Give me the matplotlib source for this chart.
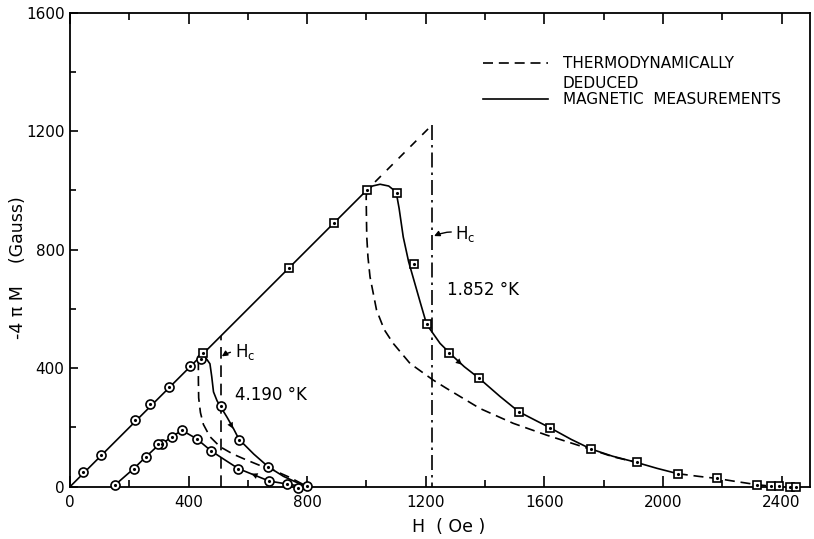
import numpy as np
import matplotlib
matplotlib.use('Agg')
import matplotlib.pyplot as plt
from matplotlib.lines import Line2D

# --- data (H in Oe, -4piM in Gauss) ---
# straight line (full diamagnetism)
diag_h = [0, 1001]
diag_m = [0, 1001]

# 4.190 K : circles on the rising line
t419_up_h = [45, 104, 218, 271, 334, 405, 442]
t419_up_m = [48, 108, 224, 278, 338, 408, 430]

# 4.190 K : measured curve, increasing field
t419_inc_h = [442, 460, 472, 478, 484, 496, 508, 530, 552, 570, 620, 669, 720, 770, 800]
t419_inc_m = [430, 432, 415, 372, 320, 290, 270, 234, 195, 160, 110, 67, 35, 12, 0]
t419_inc_pts_h = [508, 570, 669, 798]
t419_inc_pts_m = [272, 158, 67, 2]

# 4.190 K : measured curve, decreasing field
t419_dec_h = [800, 770, 733, 672, 620, 568, 520, 476, 427, 378, 343, 311, 298, 256, 215, 152, 145]
t419_dec_m = [0, 3, 9, 19, 40, 61, 92, 121, 162, 190, 169, 144, 140, 101, 61, 6, 0]
t419_dec_pts_h = [770, 733, 672, 568, 476, 427, 378, 343, 311, 298, 256, 215, 152]
t419_dec_pts_m = [-4, 9, 19, 61, 121, 162, 190, 169, 144, 144, 101, 61, 6]

# 4.190 K : thermodynamically deduced
t419_th_h = [433, 433, 434, 440, 450, 472, 506, 550, 596, 640, 686, 740, 786, 800]
t419_th_m = [427, 360, 300, 250, 210, 169, 135, 110, 90, 72, 56, 32, 8, 0]
hc_419 = 508

# 1.852 K : squares
t185_pts_h = [450, 737, 889, 1001, 1102, 1160, 1203, 1277, 1380, 1514, 1619, 1758,
              1911, 2050, 2181, 2316, 2363, 2392, 2428, 2448]
t185_pts_m = [452, 737, 889, 1001, 993, 752, 548, 452, 366, 253, 199, 127,
              82, 44, 28, 7, 2, 2, 0, -2]

# 1.852 K : measured curve
t185_meas_h = [1001, 1020, 1046, 1075, 1100, 1110, 1124, 1142, 1162, 1182, 1203, 1248,
               1290, 1330, 1380, 1450, 1514, 1570, 1619, 1690, 1758, 1830, 1911, 1980, 2050]
t185_meas_m = [1001, 1015, 1021, 1015, 995, 940, 843, 760, 690, 620, 548, 484,
               442, 405, 366, 305, 253, 224, 199, 160, 127, 103, 82, 62, 44]
t185_tail_h = [2050, 2120, 2181, 2250, 2316, 2363, 2400, 2448]
t185_tail_m = [44, 35, 28, 17, 7, 2, 1, 0]

# 1.852 K : thermodynamically deduced
t185_th_h = [1001, 999, 1000, 1001, 1005, 1012, 1034, 1060, 1090, 1147, 1225, 1270,
             1383, 1495, 1608, 1720, 1832, 1911]
t185_th_m = [1001, 978, 900, 843, 775, 708, 596, 530, 484, 416, 360, 332,
             264, 214, 174, 138, 101, 82]
hc_185 = 1222

plt.rcParams['font.family'] = 'DejaVu Sans'
plt.rcParams['mathtext.fontset'] = 'dejavusans'

fig = plt.figure(figsize=(8.14, 5.39), dpi=100)
ax = fig.add_axes([0.0860, 0.0970, 0.9091, 0.8794])

lw = 1.2
k = 'black'
dash = (6, 3.5)

ax.plot(diag_h, diag_m, color=k, lw=lw)

# 4.190 K
ax.plot(t419_inc_h, t419_inc_m, color=k, lw=lw)
ax.plot(t419_dec_h, t419_dec_m, color=k, lw=lw)
ax.plot(t419_th_h, t419_th_m, color=k, lw=lw, linestyle=(0, dash))
ax.plot([hc_419, hc_419], [0, hc_419], color=k, lw=lw, linestyle=(0, (7, 4)))

# 1.852 K
ax.plot(t185_meas_h, t185_meas_m, color=k, lw=lw)
ax.plot(t185_tail_h, t185_tail_m, color=k, lw=lw, linestyle=(0, dash))
ax.plot(t185_th_h, t185_th_m, color=k, lw=lw, linestyle=(0, dash))
ax.plot([1001, hc_185], [1001, hc_185], color=k, lw=lw, linestyle=(3, (5, 5)))
ax.plot([hc_185, hc_185], [hc_185, 0], color=k, lw=lw, linestyle=(0, (9, 3, 1.5, 3)))

# markers
def circles(h, m):
    ax.plot(h, m, 'o', ms=6.5, mfc='white', mec=k, mew=1.2, zorder=5, clip_on=False)
    ax.plot(h, m, '.', ms=2.5, color=k, zorder=6, clip_on=False)

def squares(h, m):
    ax.plot(h, m, 's', ms=6, mfc='white', mec=k, mew=1.2, zorder=5, clip_on=False)
    ax.plot(h, m, '.', ms=2.5, color=k, zorder=6, clip_on=False)

circles(t419_up_h, t419_up_m)
circles(t419_inc_pts_h, t419_inc_pts_m)
circles(t419_dec_pts_h, t419_dec_pts_m)
squares(t185_pts_h, t185_pts_m)

# direction arrows on curves
ap = dict(arrowstyle='-|>', color=k, lw=0, mutation_scale=11, shrinkA=0, shrinkB=0)
ax.annotate('', xy=(550, 196), xytext=(530, 232), arrowprops=ap)
ax.annotate('', xy=(612, 44), xytext=(645, 30), arrowprops=ap)
ax.annotate('', xy=(1322, 412), xytext=(1290, 440), arrowprops=ap)

# Hc labels
hp = dict(arrowstyle='-|>', color=k, lw=1.0, mutation_scale=8, shrinkA=1, shrinkB=0,
          connectionstyle='arc3,rad=0.2')
ax.annotate(r'H$_{\rm c}$', xy=(hc_419 + 4, 440), xytext=(555, 456), fontsize=12,
            va='center', ha='left', arrowprops=hp)
ax.annotate(r'H$_{\rm c}$', xy=(hc_185 + 6, 846), xytext=(1300, 852), fontsize=12,
            va='center', ha='left', arrowprops=hp)
ax.text(556, 309, '4.190 °K', fontsize=12, va='center', ha='left')
ax.text(1270, 663, '1.852 °K', fontsize=12, va='center', ha='left')

# legend drawn by hand
ax.add_line(Line2D([0.558, 0.646], [0.893, 0.893], transform=ax.transAxes,
                   color=k, lw=lw, linestyle=(0, dash)))
ax.add_line(Line2D([0.558, 0.646], [0.819, 0.819], transform=ax.transAxes,
                   color=k, lw=lw))
ax.text(0.666, 0.8840, 'THERMODYNAMICALLY', transform=ax.transAxes, fontsize=11,
        va='baseline', ha='left')
ax.text(0.666, 0.8420, 'DEDUCED', transform=ax.transAxes, fontsize=11,
        va='baseline', ha='left')
ax.text(0.666, 0.8070, 'MAGNETIC  MEASUREMENTS', transform=ax.transAxes, fontsize=11,
        va='baseline', ha='left')

# axes
ax.set_xlim(0, 2496)
ax.set_ylim(0, 1600)
ax.set_xticks(np.arange(0, 2401, 400))
ax.set_xticks(np.arange(200, 2401, 400), minor=True)
ax.set_yticks(np.arange(0, 1601, 400))
ax.set_yticks(np.arange(200, 1601, 400), minor=True)
ax.tick_params(axis='both', which='both', direction='in', top=True, right=False,
               labelsize=11, width=1.2)
ax.tick_params(axis='x', which='major', length=8, pad=6)
ax.tick_params(axis='x', which='minor', length=5)
ax.tick_params(axis='y', which='major', length=6, pad=4)
ax.tick_params(axis='y', which='minor', length=4)
for s in ax.spines.values():
    s.set_linewidth(1.3)

fig.text(449 / 814, 1 - 527 / 539, 'H  ( Oe )', fontsize=12.5, ha='center', va='center')
fig.text(18 / 814, 1 - 268 / 539, '-4 π M    (Gauss)', fontsize=12.5, ha='center',
         va='center', rotation=90)

fig.savefig('out.png', dpi=100)
